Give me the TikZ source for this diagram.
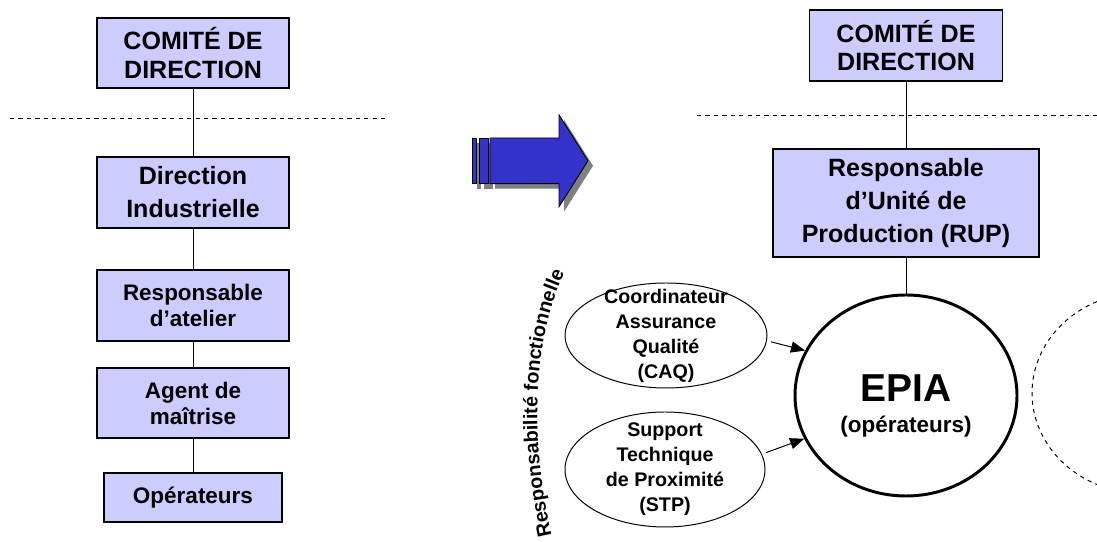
\documentclass[tikz,border=0pt]{standalone}
\usepackage{fontspec}
\setmainfont{Liberation Sans}
\usetikzlibrary{arrows.meta,shapes.geometric,decorations.text}
\definecolor{boxlilac}{HTML}{CCCCFF}
\definecolor{arrowblue}{HTML}{3333CC}
\definecolor{shadowgray}{HTML}{808080}
\newcommand{\fontbig}{\fontsize{17.8}{22.5}\selectfont\bfseries}
\newcommand{\fontmid}{\fontsize{16}{18.5}\selectfont\bfseries}
\newcommand{\fontoval}{\fontsize{14}{17.8}\selectfont\bfseries}
\newcommand{\fontepia}{\fontsize{27.7}{30}\selectfont\bfseries}
\newcommand{\fontrot}{\fontsize{14}{16}\selectfont\bfseries}
\tikzset{
  unitbox/.style={draw,line width=1.4pt,fill=boxlilac,align=center,inner sep=0pt},
  oval/.style={ellipse,draw,line width=0.7pt,align=center,inner xsep=0pt,
    inner ysep=-9pt,font=\fontoval},
  link/.style={line width=0.7pt},
}

\begin{document}
\begin{tikzpicture}[>={Triangle[length=10pt,width=8pt]}]
  \useasboundingbox (0,0) rectangle (27.425,13.55);
  % before: hierarchical line
  \node[unitbox,font=\fontbig,minimum width=4.8cm,minimum height=1.75cm]
    (comiteL) at (4.825,12.225) {COMITÉ DE\\[-2.5pt]DIRECTION};
  \node[unitbox,font=\fontbig,minimum width=4.8cm,minimum height=1.775cm]
    (dirind) at (4.825,8.7375) {Direction\\[1pt]Industrielle};
  \node[unitbox,font=\fontmid,minimum width=4.8cm,minimum height=1.775cm]
    (respat) at (4.825,5.9125) {Responsable\\d’atelier};
  \node[unitbox,font=\fontmid,minimum width=4.8cm,minimum height=1.75cm]
    (agent) at (4.825,3.475) {Agent de\\maîtrise};
  \node[unitbox,font=\fontmid,minimum width=4.45cm,minimum height=1.225cm]
    (oper) at (4.825,1.1125) {Opérateurs};
  \draw[link] (comiteL.south) -- (dirind.north);
  \draw[link] (dirind.south) -- (respat.north);
  \draw[link] (respat.south) -- (agent.north);
  \draw[link] (agent.south) -- (oper.north);
  \draw[link,dashed] (0.25,10.575) -- (9.7,10.575);

  % big arrow with its shadow
  \begin{scope}[shift={(0.125,-0.125)}]
    \fill[shadowgray] (11.8,8.96) rectangle (11.9,10.1);
    \fill[shadowgray] (11.975,8.96) rectangle (12.2,10.1);
    \fill[shadowgray] (12.25,10.1) -- (13.975,10.1) -- (13.975,10.68)
      -- (14.7,9.53) -- (13.975,8.38) -- (13.975,8.96) -- (12.25,8.96) -- cycle;
  \end{scope}
  \filldraw[arrowblue,draw=black,line width=0.6pt] (11.8,8.96) rectangle (11.9,10.1);
  \filldraw[arrowblue,draw=black,line width=0.6pt] (11.975,8.96) rectangle (12.2,10.1);
  \filldraw[arrowblue,draw=black,line width=0.6pt] (12.25,10.1) -- (13.975,10.1)
    -- (13.975,10.68) -- (14.7,9.53) -- (13.975,8.38) -- (13.975,8.96)
    -- (12.25,8.96) -- cycle;

  % after: production unit
  \node[unitbox,font=\fontbig,minimum width=4.825cm,minimum height=1.775cm]
    (comiteR) at (22.65,12.4125) {COMITÉ DE\\[-2.5pt]DIRECTION};
  \node[unitbox,font=\fontbig,minimum width=6.65cm,minimum height=2.7cm]
    (rup) at (22.65,8.475) {Responsable\\[1pt]d’Unité de\\[1pt]Production (RUP)};
  \node[ellipse,draw,line width=2.1pt,minimum width=5.55cm,minimum height=5.025cm,
    inner sep=0pt,align=center,font=\fontmid]
    (epia) at (22.65,3.6625) {{\fontepia\rule{0pt}{34pt}EPIA}\\[4pt](opérateurs)};
  \node[oval,minimum width=5.05cm,minimum height=2.625cm]
    (caq) at (16.65,5.1625) {Coordinateur\\Assurance\\Qualité\\(CAQ)};
  \node[oval,minimum width=5cm,minimum height=2.875cm]
    (stp) at (16.625,1.8125) {Support\\Technique\\de Proximité\\(STP)};
  \draw[link] (comiteR.south) -- (rup.north);
  \draw[link] (rup.south) -- (epia.north);
  \draw[link,->,shorten <=3pt] (caq.-3) -- (epia.156);
  \draw[link,->,shorten <=3pt] (stp.9) -- (epia.203);
  \draw[link,dashed] (17.425,10.65) -- (27.425,10.65);
  \draw[link,dashed] (27.425,6.01) arc[start angle=114.5,end angle=245.5,
    x radius=2.775,y radius=2.5125];
  \path[decorate,decoration={text along path,text align=center,
    text={|\fontrot|Responsabilité fonctionnelle}}]
    (13.825,0.025) .. controls (13.3,2.175) and (13.2,4.925) .. (14.175,6.85);
\end{tikzpicture}
\end{document}
